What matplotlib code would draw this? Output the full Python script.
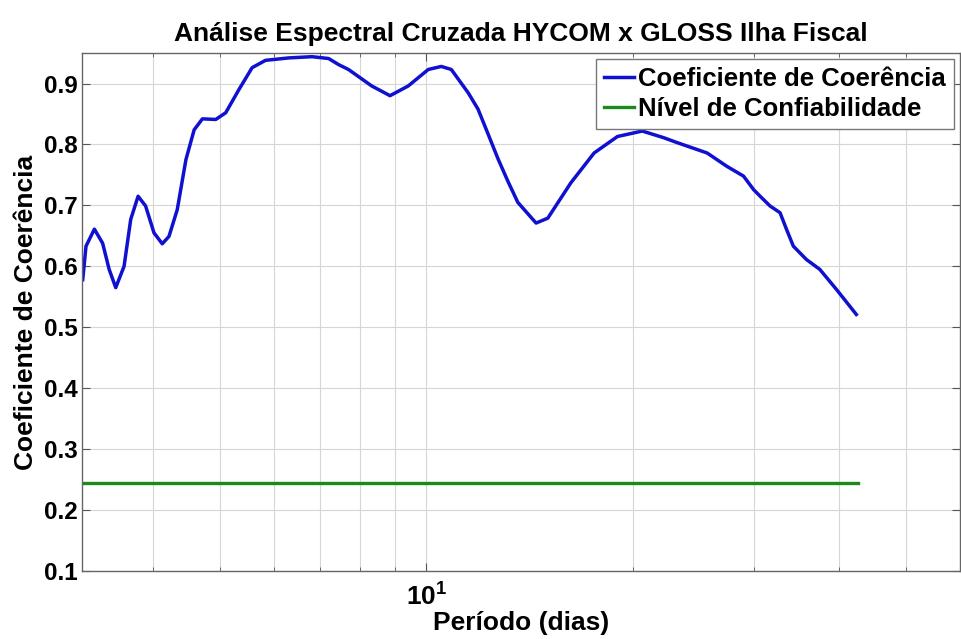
import matplotlib
matplotlib.use("Agg")
import matplotlib.pyplot as plt
from matplotlib.ticker import FixedLocator, NullFormatter, FuncFormatter

# ==========================================
# DATA
# ==========================================

periodo = [3.158, 3.193, 3.284, 3.376, 3.451, 3.528, 3.628, 3.710, 3.803,
           3.900, 4.011, 4.124, 4.218, 4.337, 4.465, 4.590, 4.719, 4.935,
           5.103, 5.334, 5.576, 5.832, 6.306, 6.816, 7.208, 7.454, 7.705,
           8.329, 8.857, 9.416, 10.07, 10.52, 10.88, 11.51, 11.90, 12.30,
           12.72, 13.15, 13.60, 14.46, 15.04, 16.25, 17.57, 19.00, 20.65,
           22.20, 23.21, 25.67, 27.44, 29.01, 30.00, 30.67, 31.71, 32.79,
           33.53, 34.29, 35.84, 37.47, 39.63, 42.36]

coerencia = [0.578, 0.633, 0.661, 0.638, 0.595, 0.565, 0.600, 0.677, 0.715,
             0.699, 0.655, 0.637, 0.649, 0.693, 0.775, 0.824, 0.842, 0.841,
             0.852, 0.890, 0.926, 0.938, 0.942, 0.944, 0.941, 0.931, 0.923,
             0.896, 0.880, 0.896, 0.923, 0.928, 0.923, 0.885, 0.858, 0.818,
             0.777, 0.740, 0.705, 0.671, 0.679, 0.737, 0.786, 0.813, 0.822,
             0.811, 0.803, 0.786, 0.764, 0.748, 0.726, 0.715, 0.699, 0.688,
             0.660, 0.633, 0.611, 0.595, 0.562, 0.521]

nivel_periodo = [3.15, 42.6]
nivel_conf = [0.245, 0.245]

y_ticks = [0.1, 0.2, 0.3, 0.4, 0.5, 0.6, 0.7, 0.8, 0.9]

# ==========================================
# PLOT
# ==========================================

plt.rcParams['font.family'] = ['Liberation Sans', 'DejaVu Sans']
plt.rcParams['font.weight'] = 'bold'
plt.rcParams['mathtext.fontset'] = 'custom'
plt.rcParams['mathtext.bf'] = 'Liberation Sans:bold'
plt.rcParams['mathtext.rm'] = 'Liberation Sans:bold'

fig = plt.figure(figsize=(9.62, 6.39), dpi=100)
ax = fig.add_axes([0.0852, 0.1064, 0.9128, 0.8106])

ax.plot(periodo, coerencia, color='#1010d0', linewidth=2.5,
        label='Coeficiente de Coerência')
ax.plot(nivel_periodo, nivel_conf, color='#1a8a1a', linewidth=2.4,
        label='Nível de Confiabilidade')

ax.set_xscale('log')
ax.set_xlim(3.15, 60)
ax.set_ylim(0.1, 0.95)

ax.xaxis.set_major_locator(FixedLocator([10]))
ax.xaxis.set_major_formatter(FuncFormatter(lambda v, p: r'$\mathbf{10^{1}}$'))
ax.xaxis.set_minor_locator(FixedLocator([4, 5, 6, 7, 8, 9, 20, 30, 40, 50]))
ax.xaxis.set_minor_formatter(NullFormatter())
ax.set_yticks(y_ticks)
ax.set_yticklabels([f'{v:.1f}' for v in y_ticks])

ax.grid(True, which='both', color='#d6d6d6', linewidth=0.8)
ax.tick_params(which='both', direction='in', top=True, right=True,
               color='#555555')
ax.tick_params(axis='y', labelsize=17.5, pad=3)
ax.tick_params(axis='x', labelsize=19, pad=9)
ax.tick_params(which='major', length=6)
ax.tick_params(which='minor', length=3)
for s in ax.spines.values():
    s.set_color('#666666')
    s.set_linewidth(1.0)

ax.set_title('Análise Espectral Cruzada HYCOM x GLOSS Ilha Fiscal',
             fontsize=19, fontweight='bold', pad=9)
ax.set_xlabel('Período (dias)', fontsize=19, fontweight='bold', labelpad=0)
ax.set_ylabel('Coeficiente de Coerência', fontsize=19, fontweight='bold',
              labelpad=4)

leg = ax.legend(loc='upper right', fontsize=18.5, handlelength=1.2,
                handletextpad=0.15, borderpad=0.3, labelspacing=0.22,
                fancybox=False, framealpha=1, borderaxespad=0.25)
leg.get_frame().set_edgecolor('#777777')
leg.get_frame().set_linewidth(1.0)

fig.savefig('out.png', dpi=100)
